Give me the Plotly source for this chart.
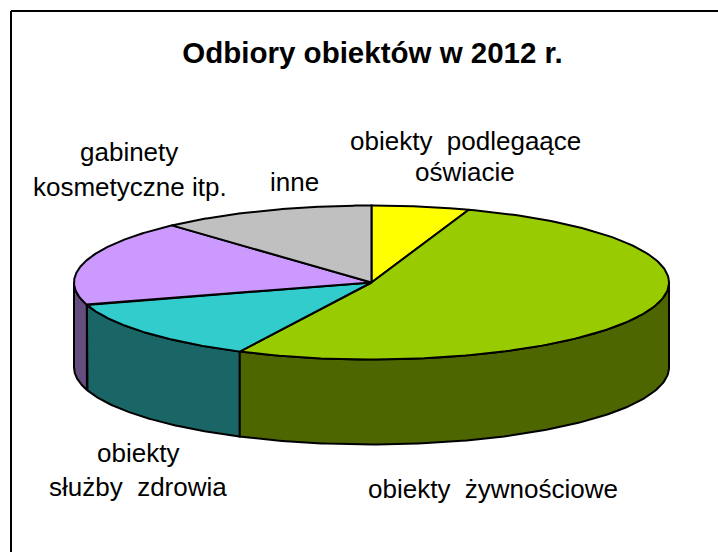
import numpy as np
import plotly.graph_objects as go

categories = ["obiekty podlegaące oświacie", "obiekty żywnościowe", "obiekty służby zdrowia",
              "gabinety kosmetyczne itp.", "inne"]
values = [5.3, 52.0, 13.0, 18.0, 11.7]

top_colors = ["#FFFF00", "#99CC00", "#33CCCC", "#CC99FF", "#C0C0C0"]
side_colors = ["#666600", "#4D6600", "#1A6666", "#664D80", "#606060"]

CX, CY, RX, RY, DEPTH = 371.5, 282.5, 297.5, 77.0, 85.0
LW = 2


def px(t):
    return CX + RX * np.sin(t)


def py(t, drop=0.0):
    return CY - RY * np.cos(t) + drop


shares = np.array(values) / sum(values) * 2 * np.pi
ends = np.cumsum(shares)
starts = ends - shares

fig = go.Figure()

# side walls: only the front half of the disc is visible
for i in [3, 2, 1]:
    a = max(starts[i], np.pi / 2)
    b = min(ends[i], 3 * np.pi / 2)
    if b <= a:
        continue
    t = np.linspace(a, b, 120)
    xs = np.concatenate([px(t), px(t[::-1])])
    ys = np.concatenate([py(t), py(t[::-1], DEPTH)])
    fig.add_trace(go.Scatter(x=np.append(xs, xs[0]), y=np.append(ys, ys[0]), mode="lines",
                             fill="toself", fillcolor=side_colors[i],
                             line=dict(color="black", width=LW), hoverinfo="skip",
                             showlegend=False, name=categories[i] + " (bok)"))

# top faces
for i in range(len(values)):
    t = np.linspace(starts[i], ends[i], 160)
    xs = np.concatenate([[CX], px(t), [CX]])
    ys = np.concatenate([[CY], py(t), [CY]])
    fig.add_trace(go.Scatter(x=xs, y=ys, mode="lines", fill="toself",
                             fillcolor=top_colors[i],
                             line=dict(color="black", width=LW), hoverinfo="skip",
                             showlegend=False, name=categories[i]))

NB = "\u00a0"
label_lines = [
    (465, 141, f"obiekty{NB}{NB}podlegaące"),
    (465, 172, "oświacie"),
    (129, 152, "gabinety"),
    (130, 187, "kosmetyczne itp."),
    (294, 182, "inne"),
    (138, 453, "obiekty"),
    (138, 487, f"służby{NB}{NB}zdrowia"),
    (493, 489, f"obiekty{NB}{NB}żywnościowe"),
]
for x, y, txt in label_lines:
    fig.add_annotation(x=x, y=y, text=txt, showarrow=False, xanchor="center", yanchor="middle",
                       font=dict(family="Liberation Sans", size=26, color="black"))

fig.update_layout(
    width=718, height=552, margin=dict(l=0, r=0, t=0, b=0),
    paper_bgcolor="white", plot_bgcolor="white", showlegend=False,
    title=dict(text="Odbiory obiektów w 2012 r.", x=372.5 / 718, xanchor="center",
               y=1 - 53 / 552, yanchor="middle",
               font=dict(family="Liberation Sans", size=29.5, color="black", weight="bold")),
    xaxis=dict(range=[0, 718], visible=False, fixedrange=True),
    yaxis=dict(range=[552, 0], visible=False, fixedrange=True),
    shapes=[
        dict(type="line", xref="x", yref="y", x0=11, x1=718, y0=11, y1=11,
             line=dict(color="black", width=2)),
        dict(type="line", xref="x", yref="y", x0=11, x1=11, y0=11, y1=552,
             line=dict(color="black", width=2)),
    ],
)

fig.write_html("out.html", config={"displayModeBar": False},
               post_script="document.body.style.margin='0';document.documentElement.style.overflow='hidden';")
